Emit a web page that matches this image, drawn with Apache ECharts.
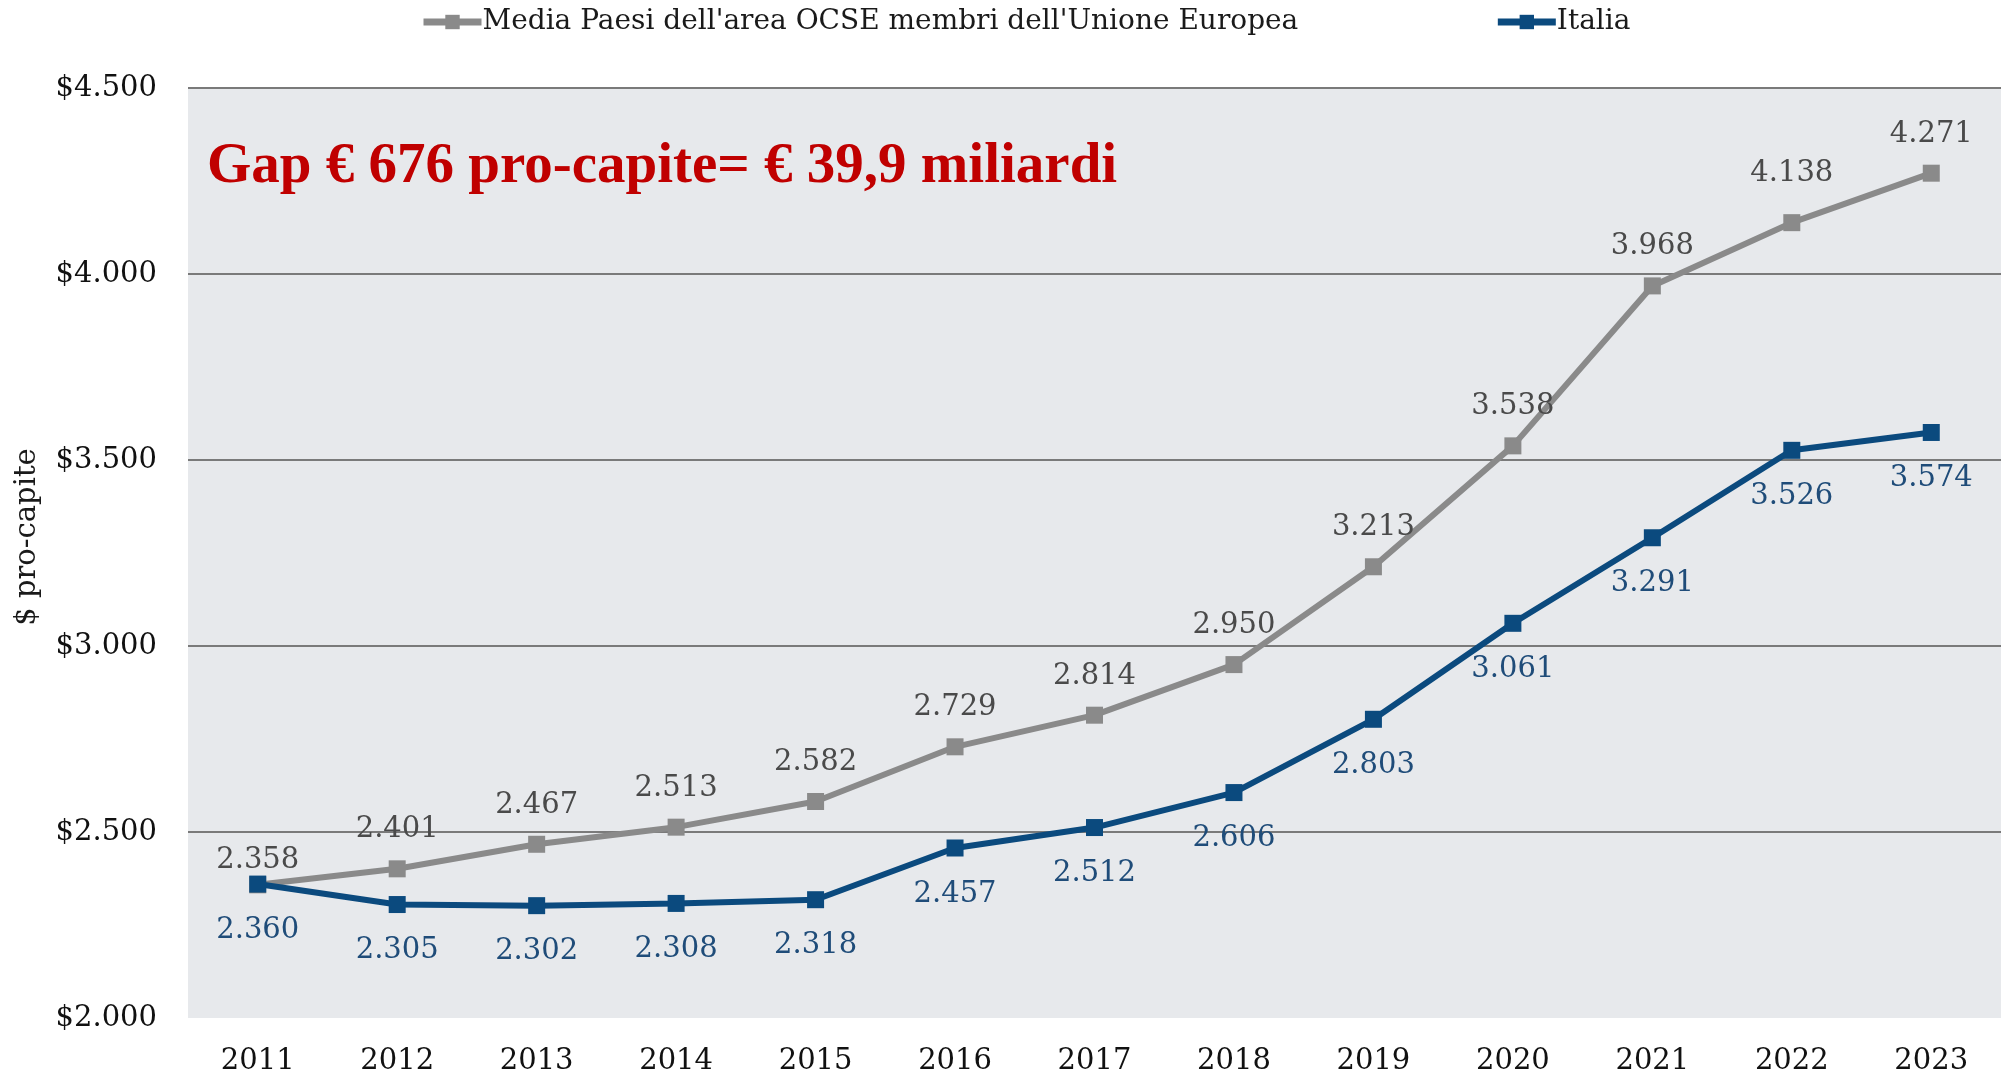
<!DOCTYPE html>
<html>
<head>
<meta charset="utf-8">
<script src="https://cdn.jsdelivr.net/npm/echarts@6/dist/echarts.min.js"></script>
<style>
html,body{margin:0;padding:0;background:#fff;}
#chart{width:2009px;height:1079px;}
</style>
</head>
<body>
<div id="chart"></div>
<script>
const years = ['2011','2012','2013','2014','2015','2016','2017','2018','2019','2020','2021','2022','2023'];
const mediaOCSE_UE = [2358, 2401, 2467, 2513, 2582, 2729, 2814, 2950, 3213, 3538, 3968, 4138, 4271];
const italia = [2360, 2305, 2302, 2308, 2318, 2457, 2512, 2606, 2803, 3061, 3291, 3526, 3574];
const yTicks = [2000, 2500, 3000, 3500, 4000, 4500];
const seriesNames = ["Media Paesi dell'area OCSE membri dell'Unione Europea", 'Italia'];
const annotation = 'Gap € 676 pro-capite= € 39,9 miliardi';
const yAxisTitle = '$ pro-capite';

function fmt(v){ return String(v).replace(/\B(?=(\d{3})+(?!\d))/g, '.'); }

const SERIF = '"DejaVu Serif", serif';
const greyLine = '#8a8a8a';
const blueLine = '#0b4a7e';

// label distance tweaks (layout only)
const greyDist = {0: 1, 11: 26};
const greyData = mediaOCSE_UE.map((v, i) => greyDist[i] !== undefined ? {value: v, label: {distance: greyDist[i]}} : v);

const chart = echarts.init(document.getElementById('chart'), null, {renderer:'canvas'});
chart.setOption({
  backgroundColor: '#ffffff',
  animation: false,
  title: {
    text: annotation,
    left: 207, top: 139, padding: 0,
    textStyle: {fontFamily: '"Liberation Serif", serif', fontWeight: 'bold', fontSize: 57, color: '#c00000'}
  },
  legend: {
    left: 420, top: 8, padding: 0,
    itemWidth: 58, itemHeight: 18, itemGap: 196,
    lineStyle: {width: 7},
    textStyle: {fontFamily: SERIF, fontSize: 28, color: '#1a1a1a', padding: [0,0,0,-4]},
    data: seriesNames
  },
  grid: {left: 188, right: 8, top: 88, bottom: 61, show: true, backgroundColor: '#e7e9ec', borderWidth: 0,
         containLabel: false, outerBoundsMode: 'none'},
  xAxis: {
    type: 'category', data: years, boundaryGap: true,
    axisLine: {show: false}, axisTick: {show: false},
    axisLabel: {fontFamily: SERIF, fontSize: 29, color: '#111', margin: 29}
  },
  yAxis: {
    type: 'value', min: yTicks[0], max: yTicks[yTicks.length-1], interval: yTicks[1]-yTicks[0],
    name: yAxisTitle, nameLocation: 'middle', nameGap: 146, nameRotate: 90,
    nameTextStyle: {fontFamily: SERIF, fontSize: 29, color: '#1a1a1a', padding: [0,0,0,32]},
    axisLine: {show: false}, axisTick: {show: false},
    axisLabel: {fontFamily: SERIF, fontSize: 29, color: '#111', margin: 31, formatter: v => '$' + fmt(v)},
    splitLine: {show: true, lineStyle: {color: ['rgba(0,0,0,0)', '#7a7a7a', '#7a7a7a', '#7a7a7a', '#7a7a7a', '#7a7a7a'], width: 2}}
  },
  series: [
    {
      name: seriesNames[0], type: 'line', data: greyData,
      symbol: 'rect', symbolSize: 17,
      lineStyle: {color: greyLine, width: 6},
      itemStyle: {color: greyLine},
      label: {show: true, position: 'top', distance: 16, fontFamily: SERIF, fontSize: 29, color: '#4a4a4a', formatter: p => fmt(p.value)},
      z: 2
    },
    {
      name: seriesNames[1], type: 'line', data: italia,
      symbol: 'rect', symbolSize: 17,
      lineStyle: {color: blueLine, width: 6},
      itemStyle: {color: blueLine},
      label: {show: true, position: 'bottom', distance: 23, fontFamily: SERIF, fontSize: 29, color: '#1f4c79', formatter: p => fmt(p.value)},
      z: 3
    }
  ]
});
</script>
</body>
</html>
